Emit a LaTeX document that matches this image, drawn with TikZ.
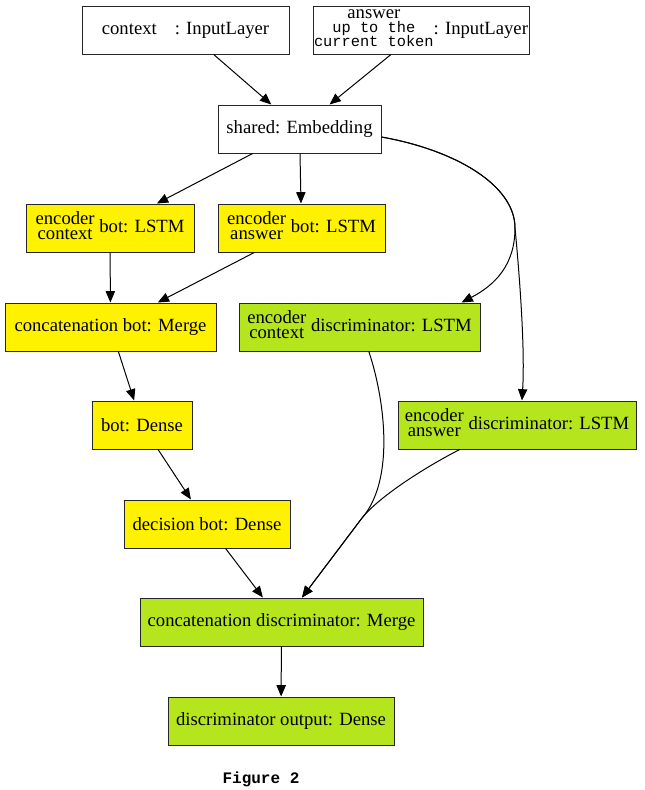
\documentclass[tikz,border=0pt]{standalone}
\usepackage{fontspec}
\setmainfont{Liberation Serif}
\setmonofont{Liberation Mono}
\usetikzlibrary{arrows.meta}
\definecolor{botyellow}{HTML}{FFF200}
\definecolor{discgreen}{HTML}{B5E61D}
\newcommand{\stk}[1]{{\def\arraystretch{1}\begin{tabular}{@{}c@{}}#1\end{tabular}}}
\newcommand{\ttsm}{\fontsize{11.5}{10.5}\selectfont\ttfamily}
\tikzset{
  box/.style={draw=black!85, line width=0.75pt, minimum height=36pt, inner sep=0pt,
    minimum width=#1*0.75pt, font=\fontsize{14}{11}\selectfont, align=center},
  ybox/.style={box=#1, fill=botyellow},
  gbox/.style={box=#1, fill=discgreen},
  edge/.style={draw=black, line width=0.75pt, -{Triangle[length=8.5pt,width=7pt]}},
  plain/.style={draw=black, line width=0.75pt}
}
\begin{document}
\begin{tikzpicture}[x=0.75pt,y=-0.75pt]
\path[use as bounding box, fill=white] (0,0) rectangle (644,790);

\node[box=207] (ctx) at (185.5,30) {context\hspace{13.5pt}: InputLayer};
\node[box=216] (ans) at (421,30) {{\fontsize{14}{10.5}\selectfont\stk{\smash{answer}\\\smash{\ttsm up to the}\\\smash{\ttsm current token}}}: InputLayer};
\node[box=163] (shared) at (299.5,129) {shared: Embedding};
\node[ybox=168] (ecb) at (110,228) {\stk{encoder\\context} bot: LSTM};
\node[ybox=167] (eab) at (301.5,228) {\stk{encoder\\answer} bot: LSTM};
\node[ybox=211] (cb) at (110.5,327) {concatenation bot: Merge};
\node[gbox=241] (ecd) at (359.5,327) {\stk{encoder\\context} discriminator: LSTM};
\node[ybox=100] (bd) at (142,425) {bot: Dense};
\node[gbox=238] (ead) at (517,425) {\stk{encoder\\answer} discriminator: LSTM};
\node[ybox=166] (dec) at (207,524) {decision bot: Dense};
\node[gbox=283] (cd) at (281.5,622) {concatenation discriminator: Merge};
\node[gbox=226] (out) at (281,721) {discriminator output: Dense};
\node[font=\fontsize{12}{12}\selectfont\ttfamily\bfseries] (fig) at (261,779) {Figure 2};

\coordinate (k1) at (515,228);
\coordinate (k2) at (362,518);

\draw[edge] (ctx) -- (shared);
\draw[edge] (ans) -- (shared);
\draw[edge] (shared) -- (ecb);
\draw[edge] (shared) -- (eab);
\draw[edge] (ecb) -- (cb);
\draw[edge] (eab) -- (cb);
\draw[edge] (cb) -- (bd);
\draw[edge] (bd) -- (dec);
\draw[edge] (dec) -- (cd);
\draw[edge] (cd) -- (out);

\draw[edge] ([yshift=-6pt]shared.east) .. controls (455,150) and (515,185) .. (k1)
  .. controls (515,265) and (495,285) .. ([xshift=76.5pt]ecd.north);
\draw[edge] ([yshift=-6pt]shared.east) .. controls (455,150) and (515,185) .. (k1)
  .. controls (520,280) and (525,350) .. ([xshift=3.75pt]ead.north);

\draw[edge] ([xshift=7pt]ecd.south) .. controls (385,400) and (395,480) .. (k2)
  -- ([xshift=15.4pt]cd.north);
\draw[edge] ([xshift=-43pt]ead.south) .. controls (420,470) and (378,498) .. (k2)
  -- ([xshift=15.4pt]cd.north);
\end{tikzpicture}
\end{document}
